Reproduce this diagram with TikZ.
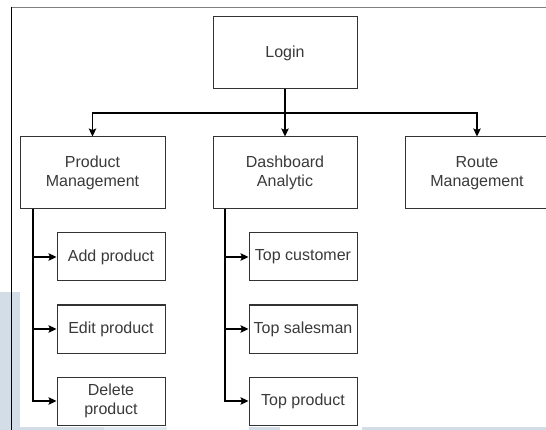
\documentclass[tikz,border=0pt]{standalone}
\usepackage{fontspec}
\setmainfont{Liberation Sans}
\usetikzlibrary{arrows.meta}
\definecolor{boxline}{HTML}{333333}
\definecolor{boxtext}{HTML}{3A3A3A}
\definecolor{bgblue}{HTML}{D3DDE7}
\definecolor{bgblueb}{HTML}{E2E9F0}
\definecolor{framegray}{HTML}{7F7F7F}
\tikzset{
  box/.style={draw=boxline, line width=1pt, fill=white, inner sep=0pt,
    text=boxtext, align=center, font=\fontsize{16}{19.5}\selectfont},
  bigbox/.style={box, minimum width=144pt, minimum height=72pt},
  smallbox/.style={box, minimum width=108pt, minimum height=48pt},
  arr/.style={draw=black, line width=1.2pt,
    -{Stealth[length=8pt,width=7.5pt,inset=1.5pt]}}
}
\begin{document}
\begin{tikzpicture}[x=1pt,y=-1pt]
  \useasboundingbox (0,0) rectangle (546,430);
  \clip (0,0) rectangle (546,430);
  % pale page background showing through
  \fill[bgblue] (0,292) rectangle (20,430);
  \fill[bgblue] (12,427) rectangle (104,430);
  \fill[bgblueb] (104,427) rectangle (167,430);
  \fill[bgblue] (249,427) rectangle (280,430);
  \fill[bgblue] (362,427) rectangle (546,430);
  % sheet edges
  \draw[framegray, line width=1.7pt] (11.5,7.5) -- (546,7.5);
  \draw[black, line width=1pt] (11.5,7) -- (11.5,430);

  % top level
  \node[bigbox] (login) at (285,53) {Login};
  \node[bigbox, minimum width=145pt] (pm) at (92.5,173) {Product\\Management};
  \node[bigbox] (da) at (285,173) {Dashboard\\Analytic};
  \node[bigbox] (rm) at (477,173) {Route\\Management};

  % product management children
  \node[smallbox] (add) at (111,257) {Add product};
  \node[smallbox] (edit) at (111,329) {Edit product};
  \node[smallbox] (del) at (111,401) {Delete\\product};

  % dashboard children
  \node[smallbox] (tcust) at (303,257) {Top customer};
  \node[smallbox] (tsales) at (303,329) {Top salesman};
  \node[smallbox] (tprod) at (303,401) {Top product};

  % login fan-out
  \coordinate (fork) at (285,113);
  \draw[arr] (login.south) -- (da.north);
  \draw[arr] (fork) -| (pm.north);
  \draw[arr] (fork) -| (rm.north);

  % trunks under the modules
  \coordinate (pmtrunk) at (33,209);
  \coordinate (datrunk) at (225,209);
  \draw[arr] (pmtrunk) |- (add.west);
  \draw[arr] (pmtrunk) |- (edit.west);
  \draw[arr] (pmtrunk) |- (del.west);
  \draw[arr] (datrunk) |- (tcust.west);
  \draw[arr] (datrunk) |- (tsales.west);
  \draw[arr] (datrunk) |- (tprod.west);
\end{tikzpicture}
\end{document}
